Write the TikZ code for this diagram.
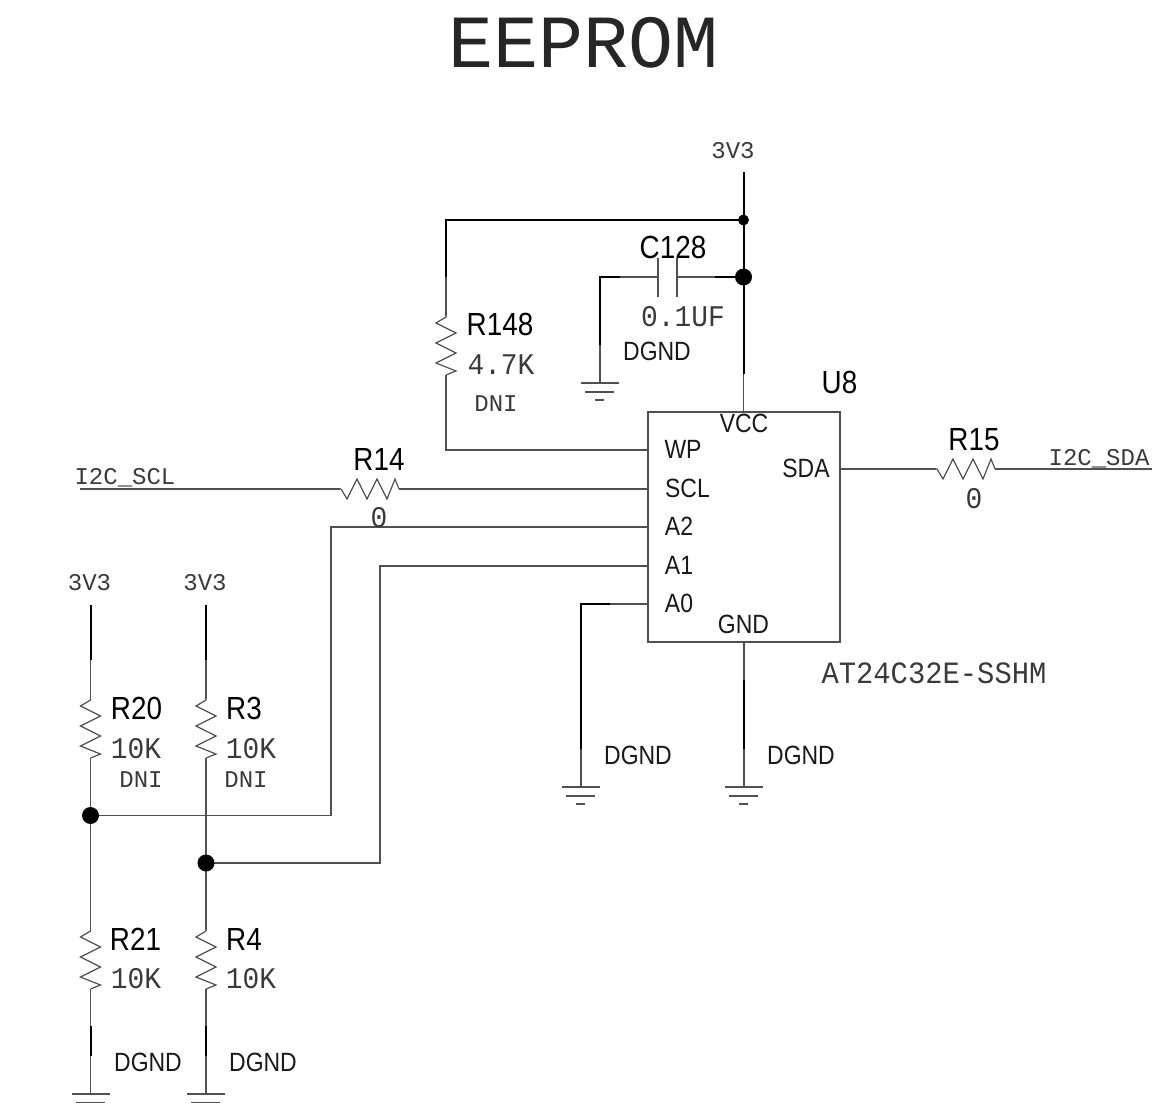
\documentclass[tikz,border=0pt]{standalone}
\usepackage{fontspec}
\newfontfamily\lab[FakeStretch=0.87]{Liberation Sans}
\newfontfamily\val[FakeStretch=0.93]{Liberation Mono}
\newfontfamily\net{Liberation Mono}
\definecolor{wiregray}{HTML}{505050}
\definecolor{valgray}{HTML}{3A3A3A}
\tikzset{
  x=0.5pt,y=-0.5pt,
  thin wire/.style={draw=wiregray,line width=0.6pt,line join=miter},
  thick wire/.style={draw=black,line width=1pt,line join=miter},
  big/.style={font=\lab\fontsize{16}{18}\selectfont,text=black,inner sep=0pt},
  small/.style={font=\lab\fontsize{13.2}{15}\selectfont,text=black!90,inner sep=0pt},
  value/.style={font=\val\fontsize{15}{17}\selectfont,text=valgray,inner sep=0pt},
  netname/.style={font=\net\fontsize{12}{14}\selectfont,text=valgray,inner sep=0pt},
  junction/.style={circle,fill=black,draw=none,inner sep=0pt,minimum size=#1},
  vres/.pic={
    \draw[thin wire] (0,0) coordinate (-t) -- (0,1) -- (-10,7) -- (10,17) -- (-10,27) -- (10,37) -- (-10,47) -- (10,55) -- (0,59) coordinate (-b);
  },
  hres/.pic={
    \draw[thin wire] (0,0) coordinate (-l) -- (1,0) -- (7,10) -- (17,-10) -- (27,10) -- (37,-10) -- (47,10) -- (55,-10) -- (59,0) coordinate (-r);
  },
  ground/.pic={
    \coordinate (-t) at (0,0);
    \draw[thin wire,line width=0.8pt] (-19,0) -- (19,0);
    \draw[thin wire,line width=0.8pt] (-15,9) -- (14,9);
    \draw[thin wire,line width=0.8pt] (-5,17) -- (4,17);
  }
}
\begin{document}
\begin{tikzpicture}
\useasboundingbox (0,0) rectangle (1152,1103);
\node[font=\net\fontsize{37.5}{40}\selectfont,text=black!85,inner sep=0pt] (title) at (583.5,43) {EEPROM};

% ---------- U8
\node[draw=wiregray,line width=0.6pt,minimum width=96pt,minimum height=115pt,inner sep=0pt] (u8) at (744,527) {};
\coordinate (pvcc) at (743.5,412);
\coordinate (pgnd) at (744,642);
\coordinate (pwp) at (648,450);
\coordinate (pscl) at (648,489);
\coordinate (pa2) at (648,527);
\coordinate (pa1) at (648,566);
\coordinate (pa0) at (648,604);
\coordinate (psda) at (840,469);

% ---------- parts
\pic (r148) at (446,316) {vres};
\pic (r20) at (90.5,699) {vres};
\pic (r3) at (206,699) {vres};
\pic (r21) at (90.5,930) {vres};
\pic (r4) at (206,930) {vres};
\pic (r14) at (340,489) {hres};
\pic (r15) at (936,469) {hres};
\pic (g1) at (600,383) {ground};
\pic (g2) at (581,787) {ground};
\pic (g3) at (744,787) {ground};
\pic (g4) at (90.5,1094) {ground};
\pic (g5) at (206,1094) {ground};

% ---------- C128
\coordinate (cl) at (658,277);
\coordinate (cr) at (677,277);
\draw[thin wire] (658,258) -- (658,297);
\draw[thin wire] (677,258) -- (677,297);

% ---------- junction positions
\coordinate (jp1) at (743.5,220);
\coordinate (jp2) at (743.5,277);
\coordinate (jp3) at (90.5,815.5);
\coordinate (jp4) at (206,863);

% ---------- helper points
\coordinate (top) at (743.5,172);
\coordinate (v1) at (743.5,374);
\coordinate (c1) at (446,220);
\coordinate (r148t) at (446,277);
\coordinate (r148c) at (446,450);
\coordinate (cw1) at (715,277);
\coordinate (cw2) at (620,277);
\coordinate (cw3) at (600,277);
\coordinate (cw4) at (600,345);
\coordinate (a0a) at (610,604);
\coordinate (a0b) at (581,604);
\coordinate (a0c) at (581,749);
\coordinate (gndt) at (744,680);
\coordinate (gndb) at (744,749);
\coordinate (sclend) at (80,489);
\coordinate (sdaend) at (1152,469);
\coordinate (a2c1) at (331,527);
\coordinate (a2c2) at (331,815.5);
\coordinate (a1c1) at (380,566);
\coordinate (a1c2) at (380,863);
\coordinate (p1) at (90.5,605);
\coordinate (p1b) at (90.5,660);
\coordinate (p2) at (206,605);
\coordinate (p2b) at (206,660);
\coordinate (g4a) at (90.5,1026);
\coordinate (g4b) at (90.5,1056);
\coordinate (g5a) at (206,1026);
\coordinate (g5b) at (206,1056);

% ---------- thick segments
\draw[thick wire] (top) -- (v1);
\draw[thick wire] (jp1) -- (c1) -- (r148t);
\draw[thick wire] (jp2) -- (cw1);
\draw[thick wire] (cw2) -- (cw3) -- (cw4);
\draw[thick wire] (a0a) -- (a0b) -- (a0c);
\draw[thick wire] (gndt) -- (gndb);
\draw[thick wire] (p1) -- (p1b);
\draw[thick wire] (p2) -- (p2b);
\draw[thick wire] (g4a) -- (g4b);
\draw[thick wire] (g5a) -- (g5b);

% ---------- thin segments
\draw[thin wire] (v1) -- (pvcc);
\draw[thin wire] (r148t) -- (r148-t);
\draw[thin wire] (r148-b) -- (r148c) -- (pwp);
\draw[thin wire] (cw1) -- (cr);
\draw[thin wire] (cl) -- (cw2);
\draw[thin wire] (cw4) -- (g1-t);
\draw[thin wire] (pa0) -- (a0a);
\draw[thin wire] (a0c) -- (g2-t);
\draw[thin wire] (pgnd) -- (gndt);
\draw[thin wire] (gndb) -- (g3-t);
\draw[thin wire] (sclend) -- (r14-l);
\draw[thin wire] (r14-r) -- (pscl);
\draw[thin wire] (psda) -- (r15-l);
\draw[thin wire] (r15-r) -- (sdaend);
\draw[thin wire] (pa2) -- (a2c1) -- (a2c2) -- (jp3);
\draw[thin wire] (pa1) -- (a1c1) -- (a1c2) -- (jp4);
\draw[thin wire] (p1b) -- (r20-t);
\draw[thin wire] (p2b) -- (r3-t);
\draw[thin wire] (r20-b) -- (jp3) -- (r21-t);
\draw[thin wire] (r3-b) -- (jp4) -- (r4-t);
\draw[thin wire] (r21-b) -- (g4a);
\draw[thin wire] (r4-b) -- (g5a);
\draw[thin wire] (g4b) -- (g4-t);
\draw[thin wire] (g5b) -- (g5-t);

% ---------- junctions (above the wires)
\node[junction=5.5pt] (j1) at (jp1) {};
\node[junction=8.5pt] (j2) at (jp2) {};
\node[junction=8.5pt] (j3) at (jp3) {};
\node[junction=8.5pt] (j4) at (jp4) {};

% ---------- labels
\node[netname] (t3v3a) at (733,151) {3V3};
\node[netname] (t3v3b) at (89.5,583) {3V3};
\node[netname] (t3v3c) at (205,583) {3V3};
\node[netname] (tscl) at (125,478) {I2C\_SCL};
\node[netname] (tsda) at (1099,459) {I2C\_SDA};
\node[netname] (tdni1) at (496,404) {DNI};
\node[netname] (tdni2) at (141,780) {DNI};
\node[netname] (tdni3) at (246,780) {DNI};

\node[big] (tc128) at (673,247) {C128};
\node[big] (tr148) at (500,324) {R148};
\node[big] (tu8) at (839.5,382) {U8};
\node[big] (tr15) at (974,440) {R15};
\node[big] (tr14) at (379,459) {R14};
\node[big] (tr20) at (136.5,708) {R20};
\node[big] (tr3) at (244,708) {R3};
\node[big] (tr21) at (135.5,939) {R21};
\node[big] (tr4) at (244,939) {R4};

\node[small] (tvcc) at (744,423) {VCC};
\node[small] (twp) at (683,449) {WP};
\node[small] (tscl2) at (687.5,488) {SCL};
\node[small] (ta2) at (679,526) {A2};
\node[small] (ta1) at (679,565) {A1};
\node[small] (ta0) at (679,603) {A0};
\node[small] (tgnd) at (743.5,624) {GND};
\node[small] (tsda2) at (806,468) {SDA};
\node[small] (dg1) at (657,351) {DGND};
\node[small] (dg2) at (638,755) {DGND};
\node[small] (dg3) at (801,755) {DGND};
\node[small] (dg4) at (148,1062) {DGND};
\node[small] (dg5) at (263,1062) {DGND};

\node[value] (v01) at (683,317) {0.1UF};
\node[value] (v47) at (501,365) {4.7K};
\node[value] (v0a) at (379,518) {0};
\node[value] (v0b) at (974,499) {0};
\node[value] (v10a) at (136,749) {10K};
\node[value] (v10b) at (251,749) {10K};
\node[value] (v10c) at (136,979) {10K};
\node[value] (v10d) at (251,979) {10K};
\node[font=\val\fontsize{15.5}{17}\selectfont,text=valgray,inner sep=0pt] (part) at (934,673) {AT24C32E-SSHM};
\end{tikzpicture}
\end{document}
